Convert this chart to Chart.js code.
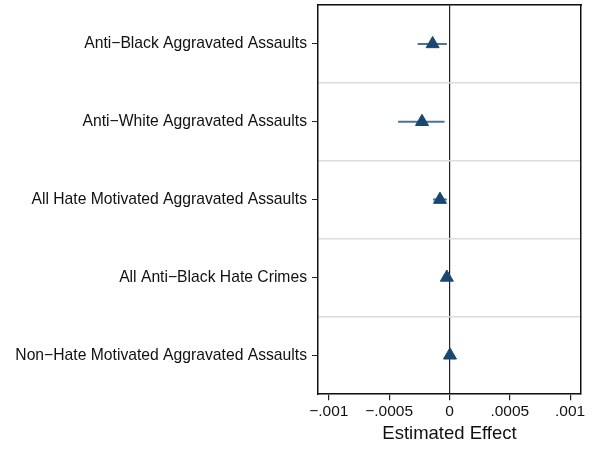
<!DOCTYPE html>
<html>
<head>
<meta charset="utf-8">
<script src="https://cdn.jsdelivr.net/npm/chart.js@4.4.1/dist/chart.umd.min.js"></script>
<style>
  html, body { margin: 0; padding: 0; background: #fff; }
  #wrap { width: 593px; height: 449px; }
</style>
</head>
<body>
<div id="wrap"><canvas id="coef" width="593" height="449"></canvas></div>
<script>
// outcomes, top to bottom
const outcomes = [
  "Anti\u2212Black Aggravated Assaults",
  "Anti\u2212White Aggravated Assaults",
  "All Hate Motivated Aggravated Assaults",
  "All Anti\u2212Black Hate Crimes",
  "Non\u2212Hate Motivated Aggravated Assaults"
];
const estimates = [-0.00014, -0.000228, -0.000079, -0.000022, 0.000004];
const ciLow     = [-0.000264, -0.000426, -0.000137, -0.000030, -0.000004];
const ciHigh    = [-0.000022, -0.000041, -0.000022, -0.000014, 0.000012];
const xTicks = [-0.001, -0.0005, 0, 0.0005, 0.001];

const navy = "#1a476f";
const fam = "'Liberation Sans', Arial, sans-serif";

function stataNum(v) {
  if (v === 0) return "0";
  let s = String(Math.abs(v)).replace(/^0/, "");
  return (v < 0 ? "\u2212" : "") + s;
}

const ciSets = outcomes.map((o, i) => ({
  data: [{ x: ciLow[i], y: o }, { x: ciHigh[i], y: o }],
  showLine: true,
  borderColor: "#4b7399",
  borderWidth: 2,
  pointRadius: 0,
  yAxisID: "y"
}));

new Chart(document.getElementById("coef"), {
  type: "scatter",
  data: {
    datasets: [
      {
        data: outcomes.map((o, i) => ({ x: estimates[i], y: o })),
        pointStyle: "triangle",
        pointRadius: 7.5,
        pointBackgroundColor: navy,
        pointBorderColor: navy,
        pointBorderWidth: 1,
        yAxisID: "y"
      },
      ...ciSets
    ]
  },
  options: {
    responsive: false,
    animation: false,
    layout: { autoPadding: false, padding: { top: 5, right: 12, bottom: 1, left: 4 } },
    plugins: { legend: { display: false }, tooltip: { enabled: false } },
    scales: {
      x: {
        type: "linear",
        min: -0.00109,
        max: 0.00109,
        afterBuildTicks: (s) => { s.ticks = xTicks.map(v => ({ value: v })); },
        ticks: {
          color: "#111",
          font: { family: fam, size: 15.5 },
          padding: 2,
          maxRotation: 0,
          callback: (v) => stataNum(v)
        },
        grid: {
          color: (c) => (c.tick && c.tick.value === 0 ? "#222" : "rgba(0,0,0,0)"),
          lineWidth: 1.2,
          tickColor: "#222",
          tickLength: 6
        },
        border: { color: "#111", width: 1.5 },
        title: {
          display: true,
          text: "Estimated Effect",
          color: "#111",
          font: { family: fam, size: 18.5 },
          padding: { top: 0, bottom: 3 }
        }
      },
      xTop: {
        type: "linear",
        position: "top",
        min: -0.00109,
        max: 0.00109,
        ticks: { display: false },
        grid: { display: false, drawTicks: false },
        border: { color: "#111", width: 1.5 },
        afterFit: (s) => { s.height = 0; }
      },
      y: {
        type: "category",
        labels: outcomes,
        offset: true,
        ticks: {
          color: "#111",
          font: { family: fam, size: 15.7 },
          padding: 5
        },
        grid: {
          drawOnChartArea: false,
          tickColor: "#222",
          tickLength: 6
        },
        border: { color: "#111", width: 1.5 },
        afterFit: (s) => { s.width = 314; s.paddingTop = 0; s.paddingBottom = 0; }
      },
      yGrid: {
        type: "category",
        labels: outcomes,
        position: "right",
        offset: true,
        ticks: { display: false },
        grid: {
          offset: true,
          color: "#dcdcdc",
          lineWidth: 1.5,
          drawTicks: false
        },
        border: { color: "#111", width: 1.5 },
        afterFit: (s) => { s.width = 0; s.paddingTop = 0; s.paddingBottom = 0; }
      }
    }
  }
});
</script>
</body>
</html>
